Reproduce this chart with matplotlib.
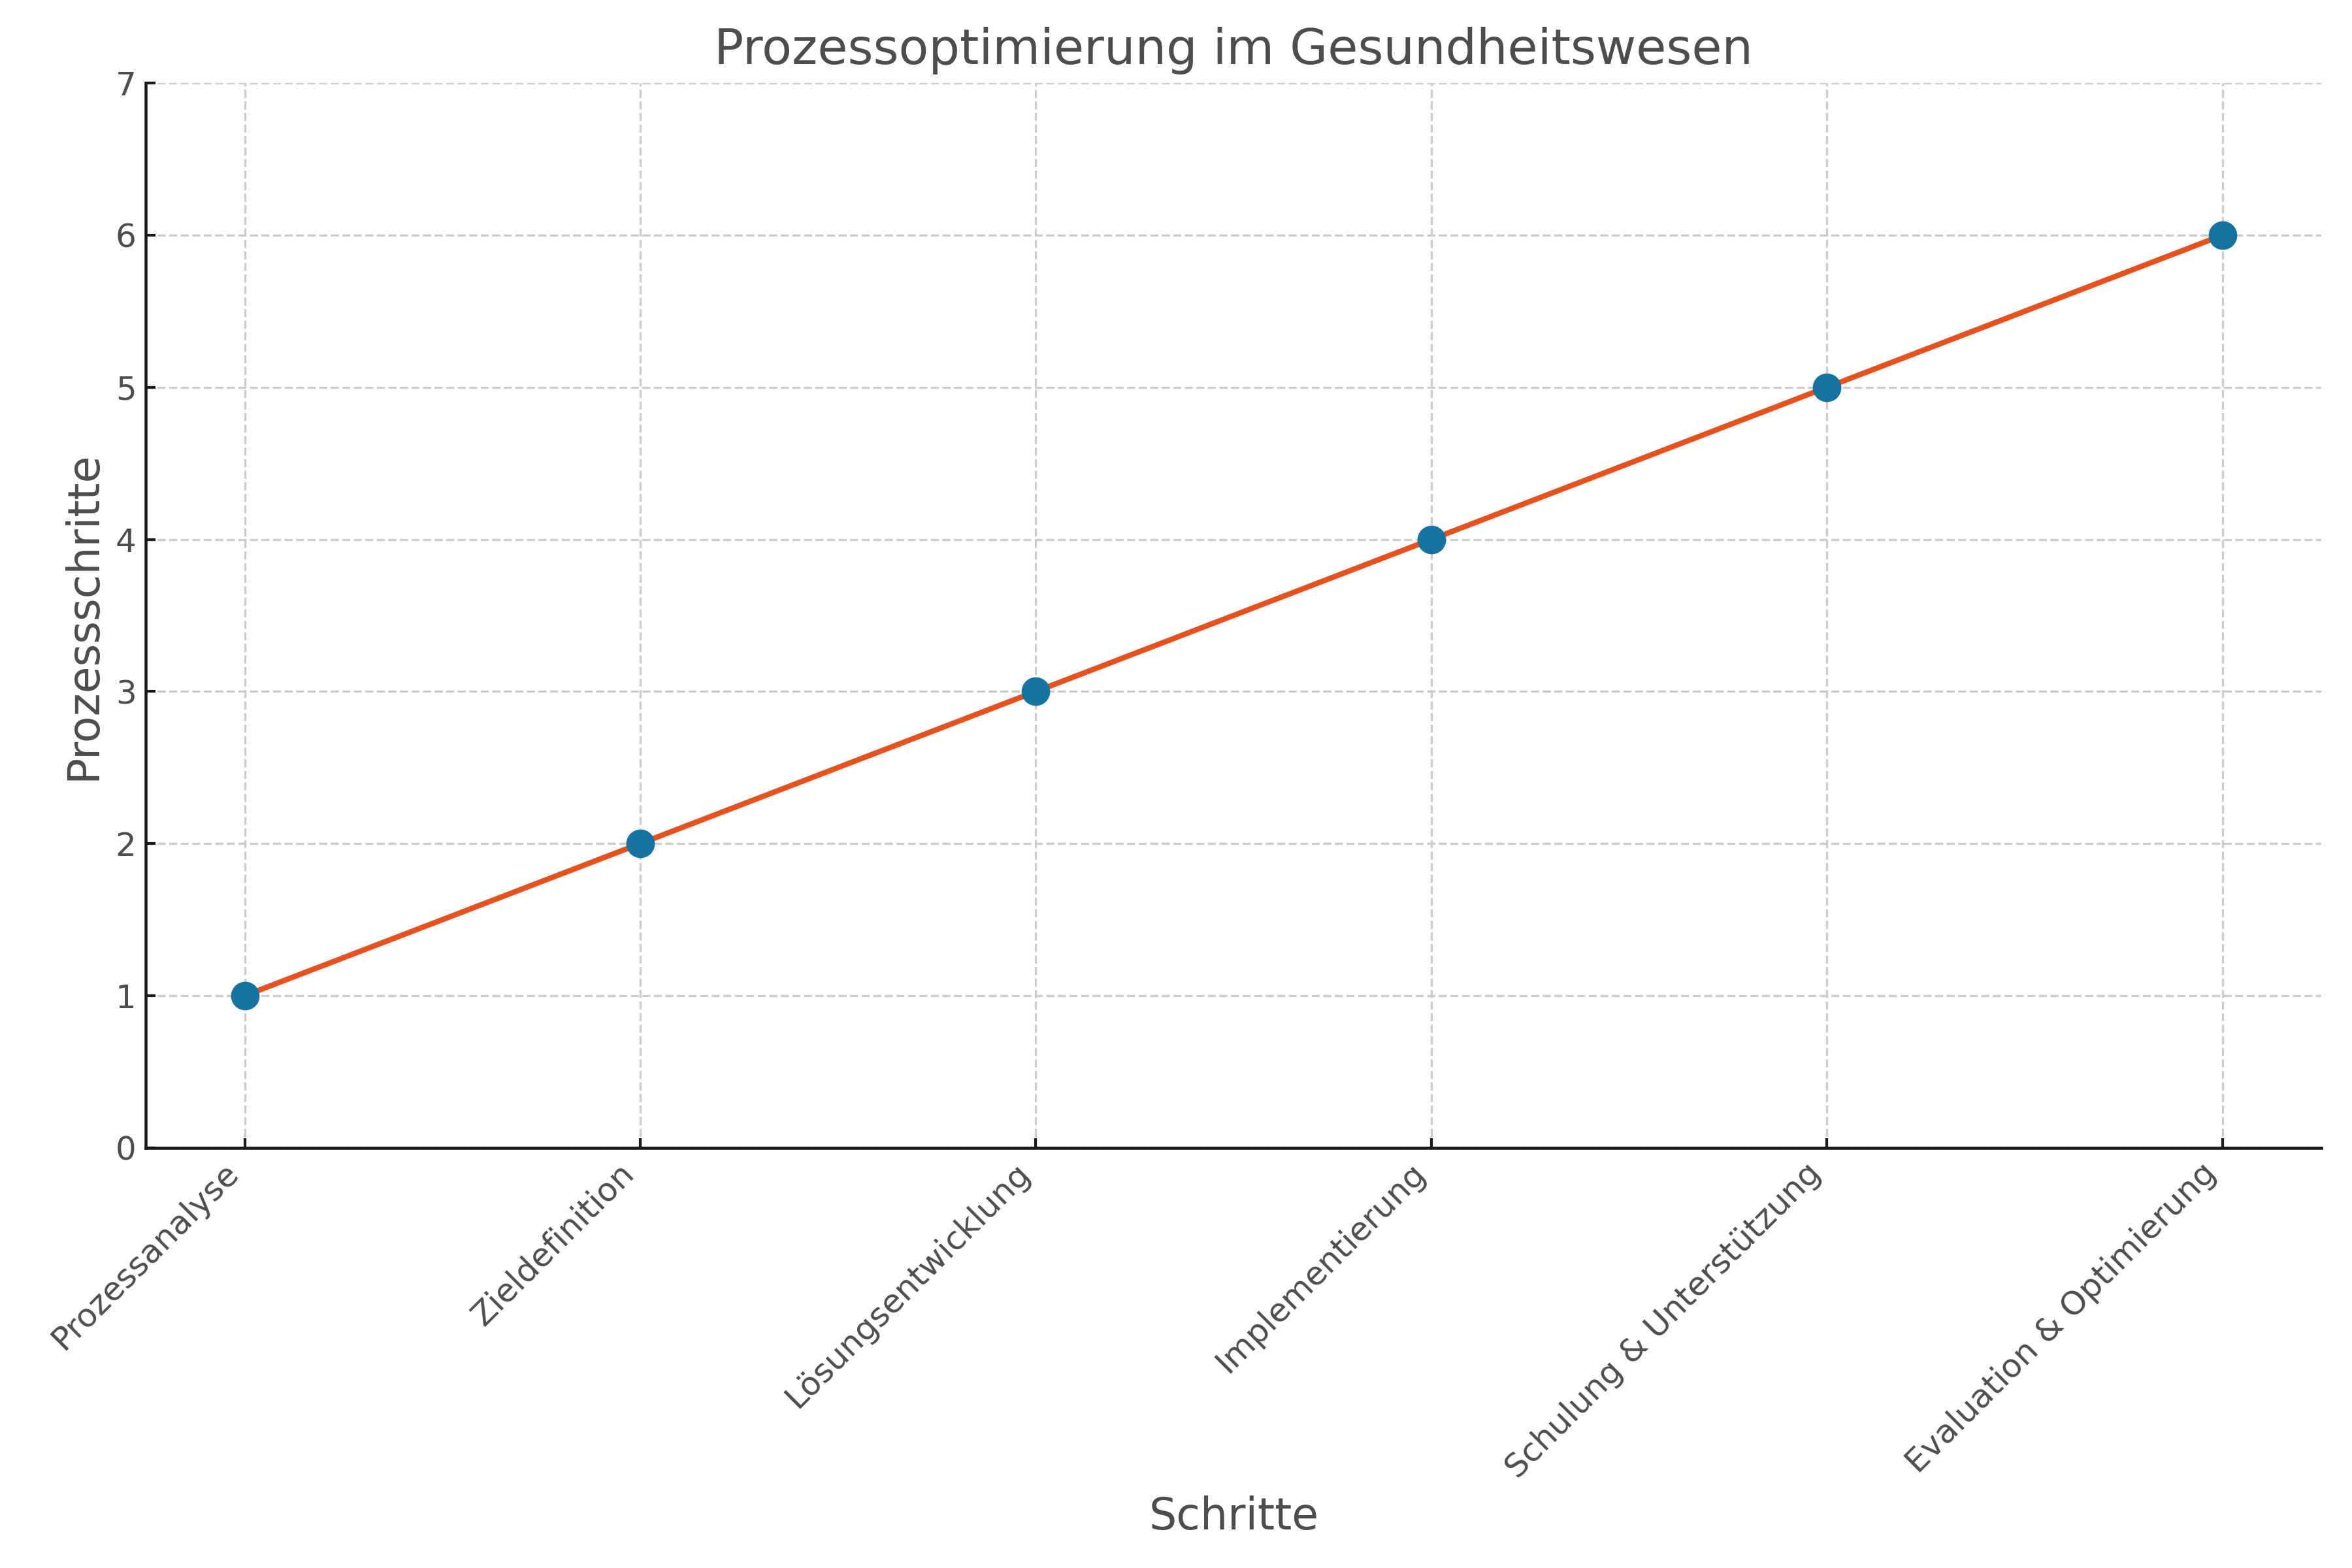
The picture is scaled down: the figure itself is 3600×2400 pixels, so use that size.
import matplotlib
matplotlib.use("Agg")
import matplotlib.pyplot as plt

steps = ["Prozessanalyse", "Zieldefinition", "Lösungsentwicklung",
         "Implementierung", "Schulung & Unterstützung", "Evaluation & Optimierung"]
values = [1, 2, 3, 4, 5, 6]
yticks = [0, 1, 2, 3, 4, 5, 6, 7]

text_color = "#4d4d4d"
line_color = "#E6521F"
marker_color = "#1872A0"

plt.rcParams["font.family"] = ["DejaVu Sans"]

fig = plt.figure(figsize=(12, 8), dpi=300)
ax = fig.add_axes([0.062, 0.268, 0.925, 0.679])

x = list(range(len(steps)))
ax.plot(x, values, color=line_color, linewidth=2, zorder=3)
ax.plot(x, values, linestyle="none", marker="o", markersize=9.5,
        color=marker_color, markeredgecolor=marker_color, zorder=4)

ax.set_xlim(-0.25, len(steps) - 0.75)
ax.set_ylim(0, 7)
ax.set_yticks(yticks)
ax.set_xticks(x)
ax.set_xticklabels(steps, rotation=45, ha="right", rotation_mode="default")

ax.grid(True, linestyle="--", color="#cccccc", linewidth=0.8)
ax.set_axisbelow(True)

for s in ["top", "right"]:
    ax.spines[s].set_visible(False)
for s in ["left", "bottom"]:
    ax.spines[s].set_linewidth(1.1)
    ax.spines[s].set_color("#1a1a1a")

ax.tick_params(axis="both", direction="in", length=3.5, width=1.0,
               labelsize=12, labelcolor=text_color, color="#1a1a1a")

ax.set_title("Prozessoptimierung im Gesundheitswesen", fontsize=18, color=text_color, pad=7)
ax.set_xlabel("Schritte", fontsize=16, color=text_color)
ax.set_ylabel("Prozessschritte", fontsize=16, color=text_color)

fig.savefig("out.png", dpi=300)
